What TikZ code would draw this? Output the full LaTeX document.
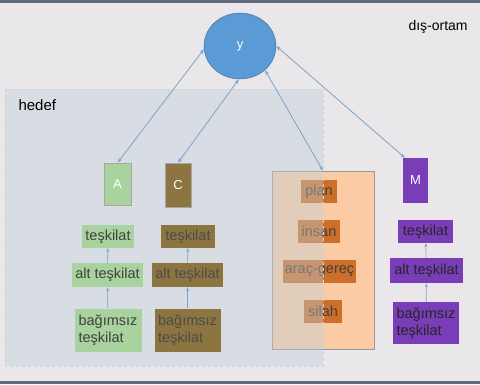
\documentclass[tikz,border=0pt]{standalone}
\usepackage{fontspec}
\setmainfont{Liberation Sans}
\usepackage{tikz}
\usetikzlibrary{arrows.meta, shapes.geometric}
\definecolor{bgcol}{HTML}{E9E7E9}
\definecolor{barcol}{HTML}{5D6B7E}
\definecolor{hedefcol}{HTML}{BED0DC}
\definecolor{linkcol}{HTML}{7BA3CC}
\definecolor{greencol}{HTML}{A9D39E}
\definecolor{olivecol}{HTML}{8C7540}
\definecolor{purplecol}{HTML}{7A3DB8}
\definecolor{orangecol}{HTML}{FBCBA6}
\definecolor{wordcol}{HTML}{C9641C}
\definecolor{bluecol}{HTML}{5B9BD5}

\begin{document}
\begin{tikzpicture}[x=1pt, y=-1pt, font=\fontsize{14.5}{16.7}\selectfont,
    box/.style={inner sep=0pt, align=center, text=black!75},
    unit/.style={box, draw=gray!70, text=white, font=\fontsize{13}{15}\selectfont},
    gbox/.style={box, fill=greencol},
    obox/.style={box, fill=olivecol, text=black!70},
    mbox/.style={box, fill=purplecol, text=black!85},
    wbox/.style={box, fill=wordcol, fill opacity=0.9, text opacity=1,
                 minimum height=23pt},
    up/.style={-{Stealth[length=4pt, width=3pt]}, linkcol, line width=0.6pt},
    link/.style={{Stealth[length=5pt, width=3.5pt]}-{Stealth[length=5pt, width=3.5pt]},
                 linkcol, line width=0.8pt}]

    % --- Frame ---
    \fill[bgcol] (0,0) rectangle (480,384);
    \fill[barcol] (0,0) rectangle (480,3);
    \fill[barcol] (0,381) rectangle (480,384);
    \node[anchor=west, font=\fontsize{14}{16}\selectfont] (ortam) at (405,27) {dış-ortam};

    % --- Resources ---
    \node[box, fill=orangecol, draw=gray!80, minimum width=102pt, minimum height=178pt]
      (kaynak) at (323,260) {};
    \node[wbox, minimum width=36pt] (plan)  at (319,191.5) {plan};
    \node[wbox, minimum width=42pt] (insan) at (319,231)   {insan};
    \node[wbox, minimum width=73pt] (arac)  at (319.5,271.5) {araç-gereç};
    \node[wbox, minimum width=38pt] (silah) at (323,311)   {silah};

    % --- Target ---
    \fill[hedefcol, fill opacity=0.4] (5,89) rectangle (323,366);
    \draw[gray!35, dashed] (5,89) rectangle (323,366);
    \node[anchor=west, font=\fontsize{15}{17}\selectfont] (hedef) at (15,105) {hedef};

    % --- Units ---
    \node[unit, fill=greencol,  minimum width=27pt, minimum height=42pt] (A) at (117.5,184) {A};
    \node[unit, fill=olivecol,  minimum width=26pt, minimum height=44pt] (C) at (178,185)   {C};
    \node[unit, fill=purplecol, draw=none, minimum width=25pt, minimum height=45pt] (M) at (415.5,180.5) {M};

    % --- Organisation columns ---
    \node[gbox, minimum width=52pt, minimum height=23pt] (ta) at (108,236.5) {teşkilat};
    \node[gbox, minimum width=71pt, minimum height=24pt] (aa) at (107.5,275) {alt teşkilat};
    \node[gbox, align=left, minimum width=67pt, minimum height=43pt] (ba) at (108,330) {bağımsız\\teşkilat};

    \node[obox, minimum width=54pt, minimum height=23pt] (tc) at (188,236.5) {teşkilat};
    \node[obox, minimum width=71pt, minimum height=24pt] (ac) at (187.5,275) {alt teşkilat};
    \node[obox, align=left, minimum width=66pt, minimum height=43pt] (bc) at (187.5,330) {bağımsız\\teşkilat};

    \node[mbox, minimum width=55pt, minimum height=23pt] (tm) at (425.5,231.5) {teşkilat};
    \node[mbox, minimum width=73pt, minimum height=25pt] (am) at (426.5,270.5) {alt teşkilat};
    \node[mbox, align=left, minimum width=66pt, minimum height=42pt] (bm) at (426,323) {bağımsız\\teşkilat};

    % --- Goal ---
    \node[ellipse, fill=bluecol, draw=bluecol!70!black, minimum width=72pt, minimum height=66pt,
          text=white, font=\fontsize{13}{15}\selectfont] (y) at (240,46) {y};

    % --- Edges ---
    \foreach \lo/\hi in {ba/aa, aa/ta, bc/ac, ac/tc, bm/am, am/tm}
      \draw[up] (\lo) -- (\hi);
    \draw[link] (A.north) -- (y.185);
    \draw[link] (C.north) -- (y.-92);
    \draw[link] (kaynak.north) -- (y.-44);
    \draw[link] (M.115) -- (y.east);
  \end{tikzpicture}
\end{document}
